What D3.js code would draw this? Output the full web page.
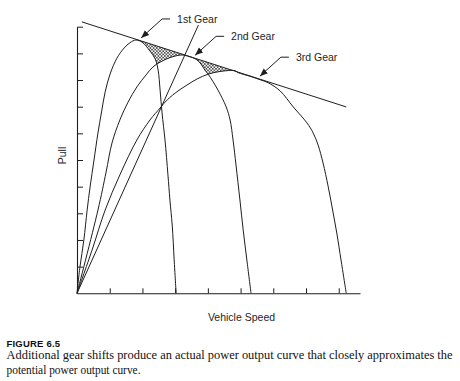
<!DOCTYPE html>
<html><head><meta charset="utf-8">
<script src="https://cdn.jsdelivr.net/npm/d3@7"></script>
<style>body{margin:0;background:#fff}svg{display:block}</style>
</head><body><svg id="c" width="460" height="381"></svg>
<script>
// ---- data (x = vehicle speed units, y = pull units) ----
const xTicks = [1, 2, 3, 4, 5, 6, 7, 8];
const yTicks = [1, 2, 3, 4, 5, 6, 7, 8, 9, 10];
const gearNames = ["1st Gear", "2nd Gear", "3rd Gear"];
const gearTouch = [1.96, 3.61, 5.59];
const envelope = [[0.15, 10.18], [8.23, 6.99]];
const straightRay = [[0, 0], [3.71, 10.06]];
const gear1 = [[0,0],[0.09,0.99],[0.21,2.0],[0.31,3.12],[0.40,3.99],[0.52,5.0],[0.64,6.01],[0.75,6.80],[0.86,7.55],[1.01,8.22],[1.22,8.82],[1.44,9.20],[1.62,9.40],[1.80,9.50],[1.99,9.42],[2.23,9.09],[2.39,8.79],[2.48,8.37],[2.54,7.62],[2.60,6.76],[2.69,5.75],[2.78,4.44],[2.84,3.50],[2.91,2.56],[2.97,1.25],[3.03,0]];
const gear2 = [[0,0],[0.64,3.12],[0.89,4.55],[1.07,5.64],[1.31,6.50],[1.56,7.17],[1.83,7.74],[2.11,8.19],[2.32,8.49],[2.54,8.67],[2.84,8.84],[3.21,8.94],[3.43,8.88],[3.64,8.78],[3.79,8.60],[3.91,8.37],[4.01,8.22],[4.31,7.62],[4.56,6.99],[4.68,6.50],[4.77,5.75],[4.86,4.81],[4.98,3.50],[5.08,2.37],[5.20,1.17],[5.32,0]];
const gear3 = [[0,0],[0.46,1.62],[0.86,3.12],[1.31,4.44],[1.83,5.75],[2.23,6.50],[2.54,6.95],[2.69,7.17],[3.00,7.51],[3.36,7.81],[3.67,8.04],[4.01,8.22],[4.37,8.32],[4.83,8.35],[4.92,8.28],[5.29,8.14],[5.60,8.01],[5.84,7.90],[6.21,7.59],[6.61,6.99],[7.03,6.39],[7.22,6.01],[7.37,5.56],[7.52,4.89],[7.68,3.99],[7.83,3.01],[7.95,2.19],[8.07,1.25],[8.23,0]];
const hatchSpans = [[1.80, 3.25], [3.62, 4.95]];

// ---- drawing ----
const svg = d3.select("#c");
const x = d3.scaleLinear().domain([0, 8.65]).range([77, 360]);
const y = d3.scaleLinear().domain([0, 10]).range([293.3, 26.7]);
const env = v => envelope[0][1] + (envelope[1][1]-envelope[0][1])*(v-envelope[0][0])/(envelope[1][0]-envelope[0][0]);
const ink = "#1e1e1e";

const defs = svg.append("defs");
const pat = defs.append("pattern").attr("id","hatch").attr("patternUnits","userSpaceOnUse")
  .attr("width",3.2).attr("height",3.2);
pat.append("path").attr("d","M0,0L3.2,3.2M3.2,0L0,3.2").attr("stroke","#333").attr("stroke-width",0.7);

const curve = d3.curveCatmullRom.alpha(0.5);
const line = d3.line().x(d=>x(d[0])).y(d=>y(d[1])).curve(curve);
const area = d3.area().x(d=>x(d[0])).y0(y(0)).y1(d=>y(d[1])).curve(curve);

// hatch regions under envelope
hatchSpans.forEach(([a,b])=>{
  const pts = [[a,0],[a,env(a)],[b,env(b)],[b,0]];
  svg.append("path").attr("d", d3.line().x(d=>x(d[0])).y(d=>y(d[1]))(pts)+"Z")
    .attr("fill","url(#hatch)");
});
// mask under gear curves
[gear1, gear2, gear3].forEach(g=>{
  svg.append("path").attr("d", area(g)).attr("fill","#fff");
});

// axes
svg.append("g").attr("transform",`translate(${x(0)},0)`)
  .call(d3.axisRight(y).tickValues(yTicks).tickSize(6).tickSizeOuter(0).tickFormat(()=>""));
svg.append("g").attr("transform",`translate(0,${y(0)})`)
  .call(d3.axisTop(x).tickValues(xTicks).tickSize(5).tickSizeOuter(0).tickFormat(()=>""));
svg.selectAll(".domain").attr("stroke",ink).attr("stroke-width",1.1);
svg.selectAll(".tick line").attr("stroke",ink).attr("stroke-width",1);

// curves
[gear1, gear2, gear3, straightRay, envelope].forEach(g=>{
  svg.append("path").attr("d", line(g)).attr("fill","none").attr("stroke",ink).attr("stroke-width",1);
});

// annotations
defs.append("marker").attr("id","arr").attr("viewBox","0 0 10 10").attr("refX",10).attr("refY",5)
  .attr("markerWidth",8).attr("markerHeight",8).attr("markerUnits","userSpaceOnUse").attr("orient","auto")
  .append("path").attr("d","M0,1L10,5L0,9Z").attr("fill",ink);
gearNames.forEach((name,i)=>{
  const tx = x(gearTouch[i]), ty = y(env(gearTouch[i])) - 3;
  const kx = tx + 21, ky = ty - 19;
  svg.append("path").attr("d",`M${kx+8},${ky}L${kx},${ky}L${tx},${ty}`)
    .attr("fill","none").attr("stroke",ink).attr("stroke-width",1).attr("marker-end","url(#arr)");
  svg.append("text").attr("x",kx+15).attr("y",ky+4).text(name)
    .attr("font-family","Liberation Sans, Arial, sans-serif").attr("font-size",10.5).attr("fill",ink);
});

// axis titles
svg.append("text").attr("x",241.5).attr("y",321).attr("text-anchor","middle").text("Vehicle Speed")
  .attr("font-family","Liberation Sans, Arial, sans-serif").attr("font-size",10.5).attr("fill",ink);
svg.append("text").attr("transform","translate(65.5,155.5) rotate(-90)").attr("text-anchor","middle").text("Pull")
  .attr("font-family","Liberation Sans, Arial, sans-serif").attr("font-size",10.5).attr("fill",ink);

// caption
svg.append("text").attr("x",6.5).attr("y",346.5).text("FIGURE 6.5")
  .attr("font-family","Liberation Sans, Arial, sans-serif").attr("font-weight","bold").attr("font-size",9.5)
  .attr("letter-spacing",0.2).attr("fill","#111");
svg.append("text").attr("x",6.5).attr("y",359).text("Additional gear shifts produce an actual power output curve that closely approximates the")
  .attr("font-family","Liberation Serif, Times New Roman, serif").attr("font-size",12)
  .attr("textLength",446).attr("lengthAdjust","spacingAndGlyphs").attr("fill","#111");
svg.append("text").attr("x",6.5).attr("y",373.5).text("potential power output curve.")
  .attr("font-family","Liberation Serif, Times New Roman, serif").attr("font-size",12)
  .attr("textLength",134).attr("lengthAdjust","spacingAndGlyphs").attr("fill","#111");
</script></body></html>
